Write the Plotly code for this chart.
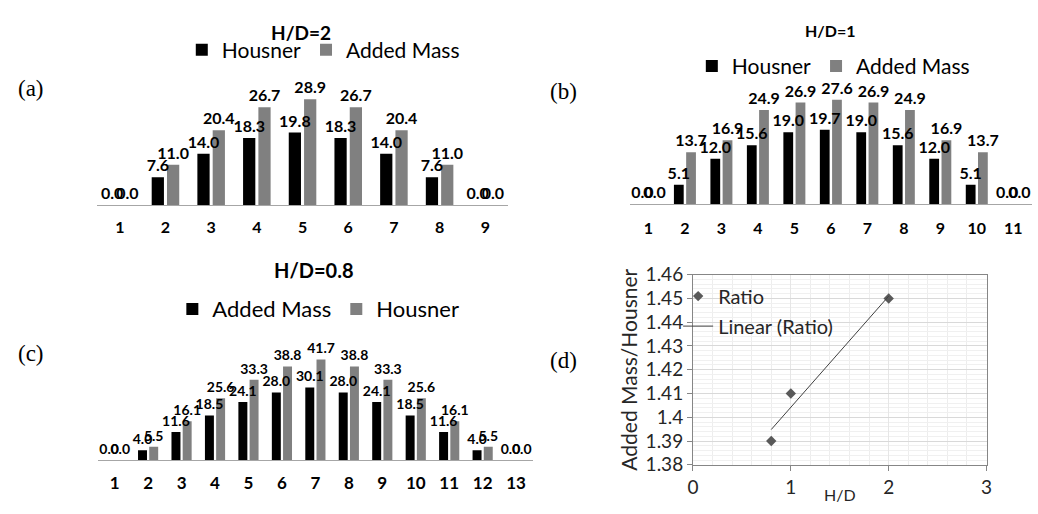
import numpy as np
import plotly.graph_objects as go

# ---------------- data ----------------
cats_a = ["1", "2", "3", "4", "5", "6", "7", "8", "9"]
housner_a = [0.0, 7.6, 14.0, 18.3, 19.8, 18.3, 14.0, 7.6, 0.0]
added_a = [0.0, 11.0, 20.4, 26.7, 28.9, 26.7, 20.4, 11.0, 0.0]

cats_b = ["1", "2", "3", "4", "5", "6", "7", "8", "9", "10", "11"]
housner_b = [0.0, 5.1, 12.0, 15.6, 19.0, 19.7, 19.0, 15.6, 12.0, 5.1, 0.0]
added_b = [0.0, 13.7, 16.9, 24.9, 26.9, 27.6, 26.9, 24.9, 16.9, 13.7, 0.0]

cats_c = ["1", "2", "3", "4", "5", "6", "7", "8", "9", "10", "11", "12", "13"]
added_c = [0.0, 4.0, 11.6, 18.5, 24.1, 28.0, 30.1, 28.0, 24.1, 18.5, 11.6, 4.0, 0.0]
housner_c = [0.0, 5.5, 16.1, 25.6, 33.3, 38.8, 41.7, 38.8, 33.3, 25.6, 16.1, 5.5, 0.0]

hd = [0.8, 1.0, 2.0]
ratio = [1.39, 1.41, 1.45]
ratio_ticks = [1.38, 1.39, 1.40, 1.41, 1.42, 1.43, 1.44, 1.45, 1.46]
ratio_tick_labels = ["1.38", "1.39", "1.4", "1.41", "1.42", "1.43", "1.44", "1.45", "1.46"]
hd_ticks = [0, 1, 2, 3]
hd_tick_labels = ["0", "1", "2", "3"]

# ---------------- layout helpers ----------------
W, H = 1038, 514
FONT = "Lato, 'Open Sans', sans-serif"
SERIF = "'Liberation Serif', 'DejaVu Serif', serif"
BLACK = "#000000"
GRAY = "#808080"
TXT = "#262626"


def xd(a, b):
    return [a / W, b / W]


def yd(top, bottom):
    return [1 - bottom / H, 1 - top / H]


fig = go.Figure()

groups = []


def add_bars(cats, vals, name, color, xa, ya, legend, size, group):
    fig.add_trace(go.Bar(
        x=cats, y=vals, name=name, marker=dict(color=color, line=dict(width=0)),
        xaxis=xa, yaxis=ya, legend=legend, offsetgroup=group,
        hoverinfo="x+y+name",
    ))
    groups.append((cats, vals, xa, ya, size, group))


def add_labels():
    # value labels drawn after all bars so they sit on top of neighbouring bars
    for cats, vals, xa, ya, size, group in groups:
        fig.add_trace(go.Bar(
            x=cats, y=vals, marker=dict(color="rgba(0,0,0,0)", line=dict(width=0)),
            xaxis=xa, yaxis=ya, offsetgroup=group, showlegend=False,
            texttemplate="%{y:.1f}", textposition="outside", cliponaxis=False,
            constraintext="none", hoverinfo="skip",
            textfont=dict(family=FONT, size=size, color=BLACK, weight="bold"),
        ))


add_bars(cats_a, housner_a, "Housner", BLACK, "x", "y", "legend", 16, "a1")
add_bars(cats_a, added_a, "Added Mass", GRAY, "x", "y", "legend", 16, "a2")
add_bars(cats_b, housner_b, "Housner", BLACK, "x2", "y2", "legend2", 16, "b1")
add_bars(cats_b, added_b, "Added Mass", GRAY, "x2", "y2", "legend2", 16, "b2")
add_bars(cats_c, added_c, "Added Mass", BLACK, "x3", "y3", "legend3", 14, "c1")
add_bars(cats_c, housner_c, "Housner", GRAY, "x3", "y3", "legend3", 14, "c2")
add_labels()

# ratio scatter + linear trend (least squares fit of the ratio points)
slope, intercept = np.polyfit(hd, ratio, 1)
trend_x = np.array([min(hd), max(hd)])
trend_y = slope * trend_x + intercept

fig.add_trace(go.Scatter(
    x=hd, y=ratio, mode="markers", name="Ratio",
    marker=dict(symbol="diamond", size=8, color="#595959"),
    xaxis="x4", yaxis="y4", legend="legend4", legendgroup="r",
))
fig.add_trace(go.Scatter(
    x=trend_x, y=trend_y, mode="lines", name="Linear (Ratio)",
    line=dict(color="#404040", width=1),
    xaxis="x4", yaxis="y4", legend="legend4", legendgroup="l",
))

bar_x_common = dict(
    type="category", showline=True, linecolor="#a6a6a6", linewidth=1,
    ticks="", showgrid=False, zeroline=False, fixedrange=True,
    tickfont=dict(family=FONT, size=16, color=BLACK, weight="bold"),
)
bar_y_common = dict(visible=False, showgrid=False, zeroline=False, fixedrange=True)

D_X = (695.0, 992.0)
D_Y = (275.0, 474.0)

fig.update_layout(
    width=W, height=H,
    margin=dict(l=0, r=0, t=0, b=0),
    paper_bgcolor="white", plot_bgcolor="white",
    barmode="group", bargap=0.33, bargroupgap=0.2,
    font=dict(family=FONT, color=BLACK),
    xaxis=dict(bar_x_common, domain=xd(92, 508), anchor="y", ticklabelstandoff=8),
    yaxis=dict(bar_y_common, domain=yd(60, 202), range=[0, (202 - 60) / 3.83], anchor="x"),
    xaxis2=dict(bar_x_common, domain=xd(631.5, 1037.5), anchor="y2", ticklabelstandoff=10),
    yaxis2=dict(bar_y_common, domain=yd(60, 201), range=[0, (201 - 60) / 3.95], anchor="x2"),
    xaxis3=dict(bar_x_common, domain=xd(93, 533), anchor="y3", ticklabelstandoff=8,
                tickfont=dict(family=FONT, size=17, color=BLACK, weight="bold")),
    yaxis3=dict(bar_y_common, domain=yd(330, 469), range=[0, (469 - 330) / 2.525], anchor="x3"),
    xaxis4=dict(
        domain=xd(*D_X), anchor="y4", range=[0, 3],
        tickvals=hd_ticks, ticktext=hd_tick_labels,
        ticks="outside", ticklen=5, tickcolor="#868686",
        showline=True, linecolor="#868686", mirror=True,
        showgrid=True, gridcolor="#e6e6e6", zeroline=False,
        minor=dict(dtick=0.2, showgrid=True, gridcolor="#ededed"),
        tickfont=dict(family=FONT, size=19, color=TXT),
    ),
    yaxis4=dict(
        domain=yd(*D_Y), anchor="x4", range=[1.38, 1.46],
        tickvals=ratio_ticks, ticktext=ratio_tick_labels,
        ticks="outside", ticklen=5, tickcolor="#868686",
        showline=True, linecolor="#868686", mirror=True,
        showgrid=True, gridcolor="#d9d9d9", zeroline=False,
        minor=dict(dtick=0.002, showgrid=True, gridcolor="#f0f0f0"),
        tickfont=dict(family=FONT, size=19, color=TXT),
        title=dict(text="Added Mass/Housner", font=dict(family=FONT, size=21, color=TXT), standoff=2),
    ),
    legend=dict(orientation="h", x=321 / W, xanchor="center", y=1 - 40 / H, yanchor="middle",
                font=dict(family=FONT, size=21, color=BLACK), bgcolor="rgba(0,0,0,0)"),
    legend2=dict(orientation="h", x=837 / W, xanchor="center", y=1 - 57 / H, yanchor="middle",
                 font=dict(family=FONT, size=21, color=BLACK), bgcolor="rgba(0,0,0,0)"),
    legend3=dict(orientation="h", x=316 / W, xanchor="center", y=1 - 311 / H, yanchor="middle",
                 font=dict(family=FONT, size=22, color=BLACK), bgcolor="rgba(0,0,0,0)"),
    legend4=dict(orientation="v", x=680 / W, xanchor="left", y=1 - 277 / H, yanchor="top",
                 font=dict(family=FONT, size=20, color=TXT), bgcolor="rgba(0,0,0,0)",
                 tracegroupgap=1),
    showlegend=True,
)

annotations = [
    ("<b>H/D=2</b>", 298, 21, 19, FONT, BLACK),
    ("<b>H/D=1</b>", 834, 19, 16, FONT, BLACK),
    ("<b>H/D=0.8</b>", 312, 270, 20, FONT, BLACK),
    ("(a)", 25, 80, 23, SERIF, BLACK),
    ("(b)", 564, 83, 23, SERIF, BLACK),
    ("(c)", 25, 358, 23, SERIF, BLACK),
    ("(d)", 564, 365, 23, SERIF, BLACK),
    ("H/D", (D_X[0] + D_X[1]) / 2, 505, 16, FONT, TXT),
]
for text, ax, ay, size, fam, col in annotations:
    fig.add_annotation(
        text=text, x=ax / W, y=1 - ay / H, xref="paper", yref="paper",
        xanchor="center", yanchor="middle", showarrow=False,
        font=dict(family=fam, size=size, color=col),
    )

fig.write_html(
    "out.html",
    config={"displayModeBar": False},
    post_script="document.body.style.margin='0';document.body.style.overflow='hidden';",
)
